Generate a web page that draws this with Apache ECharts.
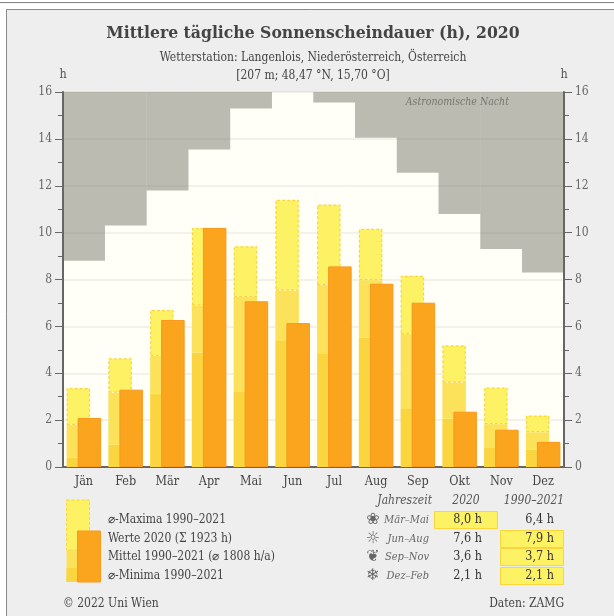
<!DOCTYPE html>
<html><head><meta charset="utf-8">
<style>html,body{margin:0;padding:0;background:#fff}#c{width:614px;height:616px}</style>
<script src="https://cdn.jsdelivr.net/npm/echarts@6/dist/echarts.min.js"></script>
</head><body><div id="c"></div>
<script>
const months=['Jän','Feb','Mär','Apr','Mai','Jun','Jul','Aug','Sep','Okt','Nov','Dez'];
const dayLength=[8.8,10.3,11.8,13.55,15.3,16,15.55,14.05,12.55,10.8,9.3,8.3];
const maxima=[3.37,4.64,6.7,10.2,9.42,11.4,11.2,10.16,8.16,5.19,3.39,2.2];
const mean=[1.79,3.17,4.74,6.88,7.25,7.52,7.77,7.97,5.68,3.6,1.83,1.48];
const minima=[0.41,0.95,3.13,4.88,3.23,5.38,4.85,5.52,2.48,2.06,0.84,0.74];
const values2020=[2.09,3.3,6.27,10.2,7.07,6.14,8.56,7.82,7.01,2.36,1.59,1.07];
const legendLabels=['⌀-Maxima 1990–2021','Werte 2020 (Σ 1923 h)','Mittel 1990–2021 (⌀ 1808 h/a)','⌀-Minima 1990–2021'];
const seasons=['Mär–Mai','Jun–Aug','Sep–Nov','Dez–Feb'];
const seasonIcons=['❀','☼','❦','❄'];
const season2020=['8,0 h','7,6 h','3,6 h','2,1 h'];
const seasonClim=['6,4 h','7,9 h','3,7 h','2,1 h'];
const high2020=[true,false,false,false];
const highClim=[false,true,true,true];

const SERIF='"DejaVu Serif Condensed","DejaVu Serif",serif';
const C_MAX='#FDF263',C_MEAN='#FBE25A',C_MIN='#FAD540',C_VAL='#FBA51F',C_VALB='#F8981D',C_DASH='#FAD63C';
const night=dayLength.map(d=>16-d);
const delta=(a,b)=>a.map((v,i)=>+(v-b[i]).toFixed(2));
const T=(x,y,text,o={})=>({type:'text',x,y,z:3,silent:true,style:Object.assign({text,font:'12px '+SERIF,fill:'#444',textAlign:'left',textVerticalAlign:'middle'},o)});
const R=(x,y,w,h,fill,stroke,dash,z)=>({type:'rect',x,y,z:z||1,shape:{x:0,y:0,width:w,height:h},style:{fill,stroke:stroke||null,lineWidth:stroke?1:0,lineDash:dash||null}});

const g=[];
g.push({type:'rect',z:-10,shape:{x:63,y:92,width:501,height:375},style:{fill:'#FFFEF7'}});
g.push(T(313,33,'Mittlere tägliche Sonnenscheindauer (h), 2020',{font:'bold 17.4px '+SERIF,fill:'#444',textAlign:'center'}));
g.push(T(313,58,'Wetterstation: Langenlois, Niederösterreich, Österreich',{font:'12px '+SERIF,textAlign:'center'}));
g.push(T(313,76,'[207 m; 48,47 °N, 15,70 °O]',{font:'12px '+SERIF,textAlign:'center'}));
g.push(T(509,102,'Astronomische Nacht',{font:'italic 10.5px '+SERIF,fill:'#77776f',textAlign:'right'}));
// legend
g.push(R(66.5,500,23,50,C_MAX,C_DASH,[3,2]));
g.push(R(66.5,550,23,32,C_MEAN));
g.push(R(66.5,568,23,14,C_MIN));
g.push(R(77.5,531,23,51,C_VAL,C_VALB));
const rowsY=[520,539,557,576];
legendLabels.forEach((t,i)=>g.push(T(108,rowsY[i],t,{font:'12px '+SERIF})));
g.push(T(63,604,'© 2022 Uni Wien',{font:'12px '+SERIF}));
g.push(T(564,604,'Daten: ZAMG',{font:'12px '+SERIF,textAlign:'right'}));
// table
g.push(T(432,501,'Jahreszeit',{font:'italic 12px '+SERIF,fill:'#555',textAlign:'right'}));
g.push(T(466,501,'2020',{font:'italic 12px '+SERIF,fill:'#555',textAlign:'center'}));
g.push(T(534,501,'1990–2021',{font:'italic 12px '+SERIF,fill:'#555',textAlign:'center'}));
seasons.forEach((s,i)=>{
  const y=rowsY[i];
  if(high2020[i])g.push(R(434.5,y-8.5,63,17,C_MAX,C_DASH));
  if(highClim[i])g.push(R(500.5,y-8.5,63,17,C_MAX,C_DASH));
  g.push(T(373,y,seasonIcons[i],{font:'16px "DejaVu Sans"',fill:'#666',textAlign:'center'}));
  g.push(T(429,y,s,{font:'italic 11px '+SERIF,fill:'#666',textAlign:'right'}));
  g.push(T(482,y,season2020[i],{font:'12.5px '+SERIF,fill:'#333',textAlign:'right'}));
  g.push(T(554,y,seasonClim[i],{font:'12.5px '+SERIF,fill:'#333',textAlign:'right'}));
});

const yAxisBase=(position,name)=>({type:'value',position,min:0,max:16,interval:2,name,
  nameLocation:'end',nameGap:11,nameTextStyle:{color:'#555',fontFamily:SERIF,fontSize:12.5,align:'center'},
  axisLine:{show:true,lineStyle:{color:'#666',width:2}},
  axisTick:{show:true,length:8,lineStyle:{color:'#666',width:1}},
  minorTick:{show:true,splitNumber:2,length:5,lineStyle:{color:'#666',width:1}},
  axisLabel:{color:'#666',fontFamily:SERIF,fontSize:12,margin:11},
  splitLine:{show:position==='left',lineStyle:{color:'rgba(120,120,90,0.11)',width:1.5}}});

const chart=echarts.init(document.getElementById('c'),null,{renderer:'canvas'});
const W=23.5,GAP='-53%';
chart.setOption({
  animation:false,
  backgroundColor:'#fff',
  grid:{left:63,top:92,width:501,height:375,containLabel:false},
  xAxis:[
    {type:'category',data:months,position:'bottom',axisLine:{lineStyle:{color:'#666',width:2}},
     axisTick:{alignWithLabel:true,length:6,lineStyle:{color:'#666'}},
     axisLabel:{color:'#444',fontFamily:SERIF,fontSize:12.5,margin:8}},
    {type:'category',data:months,position:'top',axisLine:{lineStyle:{color:'#666',width:2}},axisTick:{show:false},axisLabel:{show:false}}
  ],
  yAxis:[yAxisBase('left','h'),yAxisBase('right','h')],
  graphic:{elements:[
    {type:'rect',z:-20,shape:{x:0,y:0,width:614,height:616},style:{fill:'#fff'}},
    {type:'rect',z:-19,shape:{x:-2,y:2.5,width:618,height:0.1},style:{stroke:'#888',lineWidth:1}},
    {type:'rect',z:-18,shape:{x:6.5,y:9.5,width:610,height:610},style:{fill:'#EEEEEE',stroke:'#888',lineWidth:1}}
  ].concat(g)},
  series:[
    {name:'Tag',type:'bar',xAxisIndex:1,yAxisIndex:0,stack:'n',barWidth:'101%',data:dayLength,itemStyle:{color:'transparent'},silent:true,z:-5},
    {name:'Astronomische Nacht',type:'bar',xAxisIndex:1,yAxisIndex:0,stack:'n',barWidth:'101%',data:night,itemStyle:{color:'#BBBBB2'},silent:true,z:-5},
    {name:'Minima',type:'bar',stack:'c',barWidth:W,barGap:GAP,data:minima,itemStyle:{color:C_MIN}},
    {name:'Mittel',type:'bar',stack:'c',barWidth:W,data:delta(mean,minima),itemStyle:{color:C_MEAN}},
    {name:'Maxima',type:'bar',stack:'c',barWidth:W,data:delta(maxima,mean),itemStyle:{color:C_MAX,borderColor:C_DASH,borderWidth:1.2,borderType:[3,2]}},
    {name:'Werte 2020',type:'bar',barWidth:W,barGap:GAP,data:values2020,itemStyle:{color:C_VAL,borderColor:C_VALB,borderWidth:1},z:3}
  ]
});
</script></body></html>
